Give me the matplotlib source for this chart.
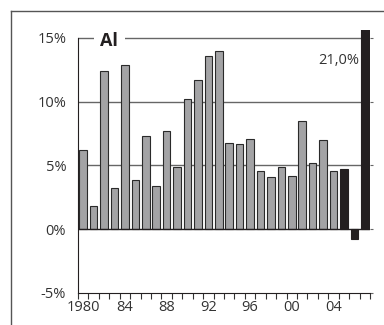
import matplotlib.pyplot as plt
from matplotlib.lines import Line2D
import numpy as np

# dane: roczna zmiana (%)
years = list(range(1980, 2008))
values = [6.2, 1.8, 12.4, 3.2, 12.9, 3.9, 7.3, 3.4, 7.7, 4.9,
          10.2, 11.7, 13.6, 14.0, 6.8, 6.7, 7.1, 4.6, 4.1, 4.9,
          4.2, 8.5, 5.2, 7.0, 4.6, 4.7, -0.8, 21.0]
n_hist = 25  # 1980-2004 szare, reszta czarna
year_labels = ['1980', '84', '88', '92', '96', '00', '04']
y_ticks = [-5, 0, 5, 10, 15]
y_labels = ['-5%', '0%', '5%', '10%', '15%']
title = 'Al'
last_label = '21,0%'

plt.rcParams['font.family'] = ['Open Sans', 'DejaVu Sans']

fig = plt.figure(figsize=(3.84, 3.25), dpi=100)
ax = fig.add_axes([78 / 384, 1 - 293 / 325, 292 / 384, (293 - 30.3) / 325])

# ramka zewnetrzna
fx, fy = 11 / 384, 1 - 11 / 325
fig.add_artist(Line2D([fx, fx], [0, fy], color='#555555', lw=1))
fig.add_artist(Line2D([fx, 1], [fy, fy], color='#555555', lw=1))

x = np.array(years) + 0.5
colors = ['#a3a3a5'] * n_hist + ['#231f20'] * (len(years) - n_hist)
edges = ['#2a2a2a'] * n_hist + ['#231f20'] * (len(years) - n_hist)
ax.bar(x, values, width=0.72, color=colors, edgecolor=edges, linewidth=0.8, zorder=3)

for v in [5, 10, 15]:
    ax.axhline(v, color='#666666', lw=1, zorder=1)
ax.axhline(0, color='#231f20', lw=1, zorder=4)

ax.set_xlim(1980, 2008)
ax.set_ylim(-5, 15.6)

ax.set_yticks(y_ticks)
ax.set_yticklabels(y_labels)
ax.set_xticks(x[::4])
ax.set_xticklabels(year_labels)
ax.set_xticks(range(1980, 2009), minor=True)

ax.tick_params(axis='y', right=True, direction='out', length=2.5, width=0.8,
               color='#666666', pad=6, labelsize=10.5, labelcolor='#333333')
for t in ax.yaxis.get_major_ticks():
    t.tick1line.set_visible(False)
ax.tick_params(axis='x', which='major', length=0, pad=5, labelsize=10.5, labelcolor='#333333')
ax.tick_params(axis='x', which='minor', direction='out', length=4, width=0.8, color='#333333')

for s in ['top', 'right']:
    ax.spines[s].set_visible(False)
ax.spines['left'].set_bounds(-5, 15)
ax.spines['left'].set_color('#231f20')
ax.spines['bottom'].set_color('#231f20')

ax.text(1983.0, 14.75, title, fontsize=13, fontweight='bold', color='#231f20',
        va='center', ha='center', zorder=5,
        bbox=dict(facecolor='white', edgecolor='none', pad=4.5))
ax.text(2007.0, 13.2, last_label, fontsize=10.5, color='#333333', ha='right', va='center')

fig.savefig('out.png', dpi=100)
